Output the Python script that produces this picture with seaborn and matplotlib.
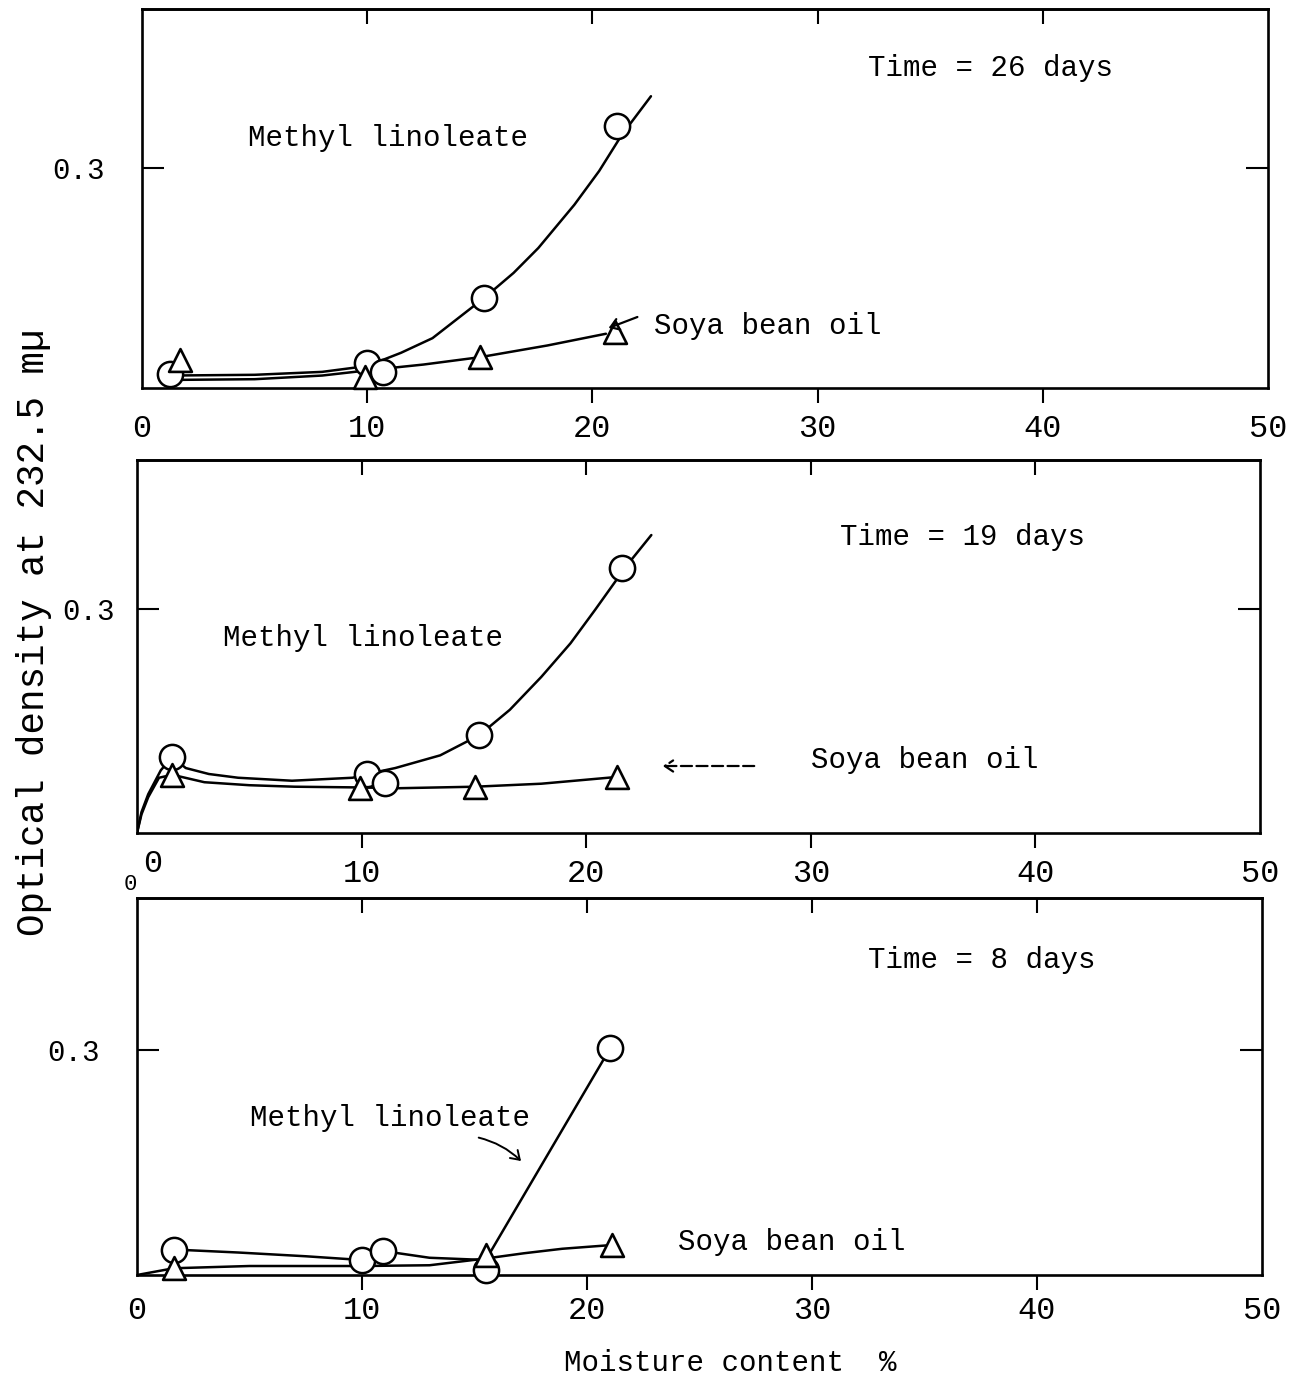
import matplotlib
matplotlib.use("Agg")
import matplotlib.pyplot as plt
import matplotlib.transforms as mtransforms
import seaborn as sns

# ---------------- data ----------------
x_ticks = [0, 10, 20, 30, 40, 50]
y_ticks = [0.3]
y_tick_labels = ["0.3"]

# Time = 26 days
ml26_x = [1.25, 10.0, 10.7, 15.2, 21.1]
ml26_y = [0.019, 0.034, 0.022, 0.123, 0.358]
sb26_x = [1.7, 9.9, 15.0, 21.0]
sb26_y = [0.038, 0.015, 0.042, 0.076]
ml26_curve_x = [1.25, 5.0, 8.0, 10.0, 11.5, 12.9, 15.2, 16.5, 17.6, 19.2, 20.3, 21.3, 22.6]
ml26_curve_y = [0.017, 0.018, 0.022, 0.030, 0.048, 0.068, 0.123, 0.157, 0.191, 0.250, 0.296, 0.345, 0.398]
sb26_curve_x = [1.25, 5.0, 8.0, 10.3, 12.5, 15.0, 18.0, 20.6]
sb26_curve_y = [0.011, 0.012, 0.017, 0.025, 0.032, 0.042, 0.058, 0.074]

# Time = 19 days
ml19_x = [1.57, 10.25, 11.05, 15.24, 21.6]
ml19_y = [0.102, 0.079, 0.067, 0.131, 0.355]
sb19_x = [1.57, 9.94, 15.06, 21.35]
sb19_y = [0.078, 0.060, 0.062, 0.075]
ml19_curve_x = [0.0, 0.2, 0.5, 1.06, 1.57, 2.17, 3.2, 4.5, 6.9, 9.6, 10.25, 11.5, 13.5,
                15.24, 16.6, 18.0, 19.3, 20.4, 21.8, 22.9]
ml19_curve_y = [0.0, 0.028, 0.052, 0.084, 0.102, 0.087, 0.079, 0.074, 0.070, 0.074, 0.079,
                0.087, 0.104, 0.131, 0.165, 0.209, 0.254, 0.299, 0.358, 0.399]
sb19_curve_x = [0.0, 0.2, 0.5, 0.98, 1.57, 3.0, 5.0, 7.0, 9.94, 11.7, 15.06, 18.0, 21.35]
sb19_curve_y = [0.0, 0.025, 0.048, 0.074, 0.078, 0.068, 0.064, 0.062, 0.061, 0.060, 0.062, 0.066, 0.075]

# Time = 8 days
ml8_x = [1.63, 9.99, 10.94, 15.5, 21.04]
ml8_y = [0.034, 0.020, 0.032, 0.007, 0.303]
sb8_x = [1.63, 15.5, 21.1]
sb8_y = [0.009, 0.027, 0.040]
ml8_curve_x = [1.63, 4.5, 7.5, 9.99, 10.94, 13.0, 15.5, 21.04]
ml8_curve_y = [0.034, 0.030, 0.025, 0.020, 0.032, 0.023, 0.020, 0.303]
sb8_curve_x = [0.0, 1.63, 5.0, 9.99, 13.0, 15.5, 17.2, 18.9, 21.1]
sb8_curve_y = [0.0, 0.009, 0.012, 0.012, 0.013, 0.022, 0.029, 0.035, 0.040]

time_labels = ["Time = 26 days", "Time = 19 days", "Time = 8 days"]
series_labels = ["Methyl linoleate", "Soya bean oil"]

# ---------------- style ----------------
sns.set_theme(style="white")
plt.rcParams["font.family"] = ["Liberation Mono", "DejaVu Sans"]
plt.rcParams["axes.edgecolor"] = "black"
plt.rcParams["text.color"] = "black"
plt.rcParams["xtick.color"] = "black"
plt.rcParams["ytick.color"] = "black"

W, H = 1293, 1381
fig = plt.figure(figsize=(W / 100, H / 100), dpi=100)
fig.patch.set_facecolor("white")


def fx(px):
    return px / W


def fy(py):
    return 1 - py / H


def make_axes(left, right, top, bottom, ymax, label_pad, ypad):
    ax = fig.add_axes([fx(left), fy(bottom), (right - left) / W, (bottom - top) / H])
    ax.set_xlim(0, 50)
    ax.set_ylim(0, ymax)
    for s in ax.spines.values():
        s.set_linewidth(1.9)
        s.set_color("black")
    ax.set_xticks(x_ticks)
    ax.set_xticklabels([str(v) for v in x_ticks], fontsize=23, color="black")
    ax.tick_params(axis="x", direction="out", length=11, width=1.5,
                   bottom=True, top=False, pad=label_pad, colors="black")
    for i in (0, len(x_ticks) - 1):
        ax.xaxis.get_major_ticks()[i].tick1line.set_visible(False)
    ax.set_yticks(y_ticks)
    ax.set_yticklabels(y_tick_labels, fontsize=21, color="black")
    ax.tick_params(axis="y", direction="in", length=16, width=1.5,
                   left=True, right=True, pad=ypad, colors="black")
    sec = ax.secondary_xaxis("top")
    sec.set_xticks(x_ticks[1:-1])
    sec.set_xticklabels([])
    sec.tick_params(direction="in", length=11, width=1.5, colors="black")
    sec.spines["top"].set_linewidth(1.9)
    ax.grid(False)
    ax.set_xlabel("")
    ax.set_ylabel("")
    return ax


def draw(ax, mlc_x, mlc_y, sbc_x, sbc_y, ml_x, ml_y, sb_x, sb_y):
    sns.lineplot(x=mlc_x, y=mlc_y, ax=ax, sort=False, estimator=None,
                 color="black", linewidth=1.8)
    sns.lineplot(x=sbc_x, y=sbc_y, ax=ax, sort=False, estimator=None,
                 color="black", linewidth=1.8)
    sns.scatterplot(x=ml_x, y=ml_y, ax=ax, marker="o", s=330, color="white",
                    edgecolor="black", linewidth=1.8, zorder=5, clip_on=False)
    sns.scatterplot(x=sb_x, y=sb_y, ax=ax, marker="^", s=270, color="white",
                    edgecolor="black", linewidth=1.9, zorder=6, clip_on=False)


ax1 = make_axes(142, 1268, 9, 388, 0.517, 8, 27)
draw(ax1, ml26_curve_x, ml26_curve_y, sb26_curve_x, sb26_curve_y,
     ml26_x, ml26_y, sb26_x, sb26_y)

ax2 = make_axes(137, 1260, 460, 833, 0.4995, 8, 16)
draw(ax2, ml19_curve_x, ml19_curve_y, sb19_curve_x, sb19_curve_y,
     ml19_x, ml19_y, sb19_x, sb19_y)
# the typed "0" of the middle panel sits slightly right of and above its tick
lab0 = ax2.xaxis.get_major_ticks()[0].label1
lab0.set_transform(lab0.get_transform() +
                   mtransforms.ScaledTranslation(16 / 100, 10 / 100, fig.dpi_scale_trans))

ax3 = make_axes(137, 1262, 898, 1275, 0.503, 4, 27)
draw(ax3, ml8_curve_x, ml8_curve_y, sb8_curve_x, sb8_curve_y,
     ml8_x, ml8_y, sb8_x, sb8_y)

# ---------------- texts ----------------
tk = dict(fontsize=21, color="black", ha="center", va="center")
fig.text(fx(990), fy(68), time_labels[0], **tk)
fig.text(fx(388), fy(138), series_labels[0], **tk)
fig.text(fx(768), fy(326), series_labels[1], **tk)

fig.text(fx(963), fy(537), time_labels[1], **tk)
fig.text(fx(363), fy(638), series_labels[0], **tk)
fig.text(fx(925), fy(760), series_labels[1], **tk)

fig.text(fx(982), fy(960), time_labels[2], **tk)
fig.text(fx(390), fy(1118), series_labels[0], **tk)
fig.text(fx(792), fy(1242), series_labels[1], **tk)

fig.text(fx(130), fy(884), "0", fontsize=16, color="black", ha="center", va="center")

fig.text(fx(34), fy(632), "Optical density at 232.5 m\u00b5", fontsize=27,
         color="black", rotation=90, ha="center", va="center")
fig.text(fx(730), fy(1363), "Moisture content  %", fontsize=21,
         color="black", ha="center", va="center")

# arrows
fig.add_artist(matplotlib.patches.FancyArrowPatch(
    (fx(640), fy(316)), (fx(606), fy(329)), transform=fig.transFigure,
    arrowstyle="->,head_length=6,head_width=4", lw=1.6, color="black"))
fig.add_artist(matplotlib.patches.FancyArrowPatch(
    (fx(757), fy(766)), (fx(660), fy(766)), transform=fig.transFigure,
    arrowstyle="->,head_length=6,head_width=4", lw=1.6, color="black",
    linestyle=(0, (5, 2))))
fig.add_artist(matplotlib.patches.FancyArrowPatch(
    (fx(476), fy(1137)), (fx(523), fy(1163)), transform=fig.transFigure,
    arrowstyle="->,head_length=6,head_width=4", lw=1.4, color="black",
    connectionstyle="arc3,rad=-0.15"))

fig.savefig("out.png", dpi=100, facecolor="white")
